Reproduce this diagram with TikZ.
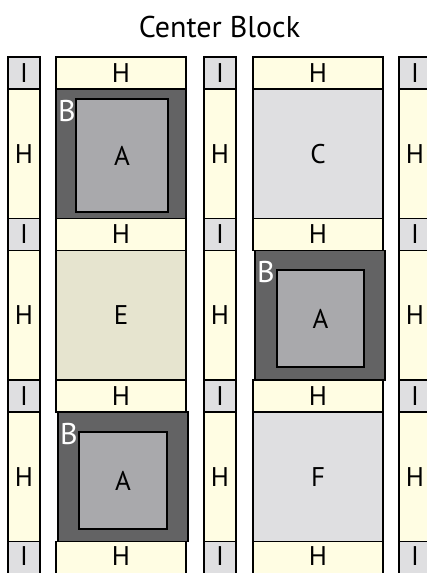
\documentclass[tikz,border=0pt]{standalone}
\usepackage{fontspec}
\setmainfont{PT Sans}
\usepackage{xcolor}
\definecolor{cH}{HTML}{FFFDE3}
\definecolor{cI}{HTML}{DFDFE1}
\definecolor{cE}{HTML}{E6E4CF}
\definecolor{cB}{HTML}{636364}
\definecolor{cA}{HTML}{A9A9AC}
\usepackage{tikz}
\usetikzlibrary{positioning}
\tikzset{
  cell/.style={draw=black,line width=1.3pt,inner sep=0pt,outer sep=0pt,
    align=center,font=\fontsize{27}{29}\selectfont},
  cell-i/.style={cell,fill=cI,minimum width=32pt,minimum height=32pt},
  cell-post/.style={cell,fill=cH,minimum width=32pt,minimum height=129.5pt},
  cell-band/.style={cell,fill=cH,minimum width=130pt,minimum height=32pt},
  cell-block/.style={cell,minimum width=130pt,minimum height=129.5pt},
  cell-last/.style={minimum height=36pt,text depth=7pt},
  fill-gray/.style={fill=cI},
  fill-e/.style={fill=cE},
  fill-b/.style={fill=cB},
  fill-a/.style={fill=cA},
  tag-b/.style={anchor=north west,inner sep=0pt,text=white,
    font=\fontsize{30}{32}\selectfont},
}
\begin{document}
\begin{tikzpicture}[x=1pt,y=-1pt]
  \useasboundingbox (0,0) rectangle (427,573);
  \clip (0,0) rectangle (427,573);
  % 标题
  \node[font=\fontsize{30}{32}\selectfont] (title) at (219.5,27) {Center Block};
  % 左竖条
  \node[cell-i] (l-i1) at (24,73) {I};
  \node[cell-post,below=0pt of l-i1] (l-h1) {H};
  \node[cell-i,below=0pt of l-h1]    (l-i2) {I};
  \node[cell-post,below=0pt of l-i2] (l-h2) {H};
  \node[cell-i,below=0pt of l-h2]    (l-i3) {I};
  \node[cell-post,below=0pt of l-i3] (l-h3) {H};
  \node[cell-i,cell-last,below=0pt of l-h3] (l-i4) {I};
  % 中竖条
  \node[cell-i] (m-i1) at (220,73) {I};
  \node[cell-post,below=0pt of m-i1] (m-h1) {H};
  \node[cell-i,below=0pt of m-h1]    (m-i2) {I};
  \node[cell-post,below=0pt of m-i2] (m-h2) {H};
  \node[cell-i,below=0pt of m-h2]    (m-i3) {I};
  \node[cell-post,below=0pt of m-i3] (m-h3) {H};
  \node[cell-i,cell-last,below=0pt of m-h3] (m-i4) {I};
  % 右竖条
  \node[cell-i] (r-i1) at (415,73) {I};
  \node[cell-post,below=0pt of r-i1] (r-h1) {H};
  \node[cell-i,below=0pt of r-h1]    (r-i2) {I};
  \node[cell-post,below=0pt of r-i2] (r-h2) {H};
  \node[cell-i,below=0pt of r-h2]    (r-i3) {I};
  \node[cell-post,below=0pt of r-i3] (r-h3) {H};
  \node[cell-i,cell-last,below=0pt of r-h3] (r-i4) {I};
  % 第一列：B / E / B
  \node[cell-band] (c1-h1) at (121,73) {H};
  \node[cell-block,fill-b,below=0pt of c1-h1] (c1-b1) {};
  \node[cell-band,below=0pt of c1-b1]         (c1-h2) {H};
  \node[cell-block,fill-e,below=0pt of c1-h2] (c1-e)  {E};
  \node[cell-band,below=0pt of c1-e]          (c1-h3) {H};
  \node[cell-block,fill-b,below=0pt of c1-h3,xshift=2pt] (c1-b3) {};
  \node[cell-band,cell-last,below=0pt of c1-h3,yshift=-129.5pt] (c1-h4) {H};
  % 第二列：C / B / F
  \node[cell-band] (c2-h1) at (318,73) {H};
  \node[cell-block,fill-gray,below=0pt of c2-h1] (c2-c) {C};
  \node[cell-band,below=0pt of c2-c]             (c2-h2) {H};
  \node[cell-block,fill-b,below=0pt of c2-h2,xshift=2pt] (c2-b2) {};
  \node[cell-band,below=0pt of c2-h2,yshift=-129.5pt]    (c2-h3) {H};
  \node[cell-block,fill-gray,below=0pt of c2-h3] (c2-f) {F};
  \node[cell-band,cell-last,below=0pt of c2-f]   (c2-h4) {H};
  % 内嵌 A 方块与 B 标记
  \node[cell,fill-a,minimum width=92pt,minimum height=113pt] (a-1) at (122,155.5) {A};
  \node[cell,fill-a,minimum width=87pt,minimum height=97pt]  (a-2) at (320.5,318.5) {A};
  \node[cell,fill-a,minimum width=88pt,minimum height=97pt]  (a-3) at (123,480.5) {A};
  \node[tag-b] (b-1) at ([xshift=2pt,yshift=-11pt]c1-b1.north west) {B};
  \node[tag-b] (b-2) at ([xshift=2pt,yshift=-11pt]c2-b2.north west) {B};
  \node[tag-b] (b-3) at ([xshift=2pt,yshift=-11pt]c1-b3.north west) {B};
\end{tikzpicture}
\end{document}
